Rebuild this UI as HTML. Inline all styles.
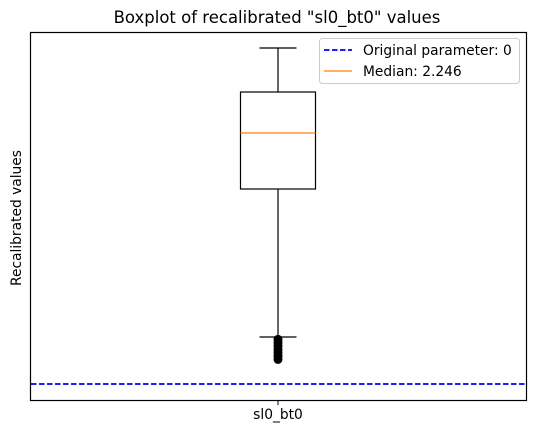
<!DOCTYPE html>
<html><head><meta charset="utf-8"><style>
body{margin:0;background:#fff;font-family:"DejaVu Sans","Liberation Sans",sans-serif}
</style></head><body>
<svg width="535" height="431" xmlns="http://www.w3.org/2000/svg" font-family="DejaVu Sans, Liberation Sans, sans-serif">
<rect width="535" height="431" fill="#fff"/>
<text x="277" y="23" text-anchor="middle" font-size="16.5">Boxplot of recalibrated "sl0_bt0" values</text>
<text transform="translate(21,218) rotate(-90)" text-anchor="middle" font-size="13.8">Recalibrated values</text>
<g id="plot"></g>
<rect x="30.5" y="32.5" width="496" height="368" fill="none" stroke="#000" stroke-width="1.2"/>
<line x1="278" y1="401" x2="278" y2="405" stroke="#000"/>
<text x="278" y="419" text-anchor="middle" font-size="13.8">sl0_bt0</text>
<g>
<rect x="319.5" y="38.5" width="200" height="45" rx="3" fill="#fff" fill-opacity="0.8" stroke="#ccc"/>
<line x1="324" y1="50" x2="352" y2="50" stroke="#0000ff" stroke-width="1.8" stroke-dasharray="5.5,2.5"/>
<text x="363" y="55" font-size="13.8">Original parameter: 0</text>
<line x1="324" y1="71" x2="352" y2="71" stroke="#ff7f0e" stroke-width="1.2"/>
<text x="363" y="76" font-size="13.8">Median: 2.246</text>
</g>
</svg>
<script>
const stats = [0.421, 1.745, 2.246, 2.613, 3.007]; // whiskerLow, q1, median, q3, whiskerHigh
const outliers = [0.40, 0.37, 0.34, 0.31, 0.28, 0.25, 0.22];
const originalValue = [0];
const yDomain = [-0.152, 3.15];
const plotTop = 32, plotBottom = 401, cx = 278, halfW = 37.5, capW = 18.5;
function y(v){return plotBottom - (v - yDomain[0])/(yDomain[1]-yDomain[0])*(plotBottom-plotTop);}
const ns="http://www.w3.org/2000/svg", g=document.getElementById('plot');
function mk(tag,attrs){const e=document.createElementNS(ns,tag);for(const k in attrs)e.setAttribute(k,attrs[k]);g.appendChild(e);return e;}
let e;
e=mk('line',{x1:cx,x2:cx,y1:y(stats[3]),y2:y(stats[4]),stroke:'#000','stroke-width':1.2});


e=mk('line',{x1:cx,x2:cx,y1:y(stats[0]),y2:y(stats[1]),stroke:'#000','stroke-width':1.2});


e=mk('line',{x1:cx-capW,x2:cx+capW,y1:y(stats[4]),y2:y(stats[4]),stroke:'#000','stroke-width':1.2});


e=mk('line',{x1:cx-capW,x2:cx+capW,y1:y(stats[0]),y2:y(stats[0]),stroke:'#000','stroke-width':1.2});


e=mk('rect',{x:cx-halfW,y:y(stats[3]),width:2*halfW,height:y(stats[1])-y(stats[3]),fill:'none',stroke:'#000','stroke-width':1.2});


e=mk('line',{x1:cx-halfW,x2:cx+halfW,y1:y(stats[2]),y2:y(stats[2]),stroke:'#ff7f0e','stroke-width':1.2});


outliers.forEach(v=>{
  e=mk('circle',{cx:cx,cy:y(v),r:4,fill:'#000',stroke:'#000'});
  
  
});
e=mk('line',{x1:31,x2:526,y1:y(originalValue[0]),y2:y(originalValue[0]),stroke:'#0000ff','stroke-width':1.8,'stroke-dasharray':'5.5,2.5'});


</script>
</body></html>
